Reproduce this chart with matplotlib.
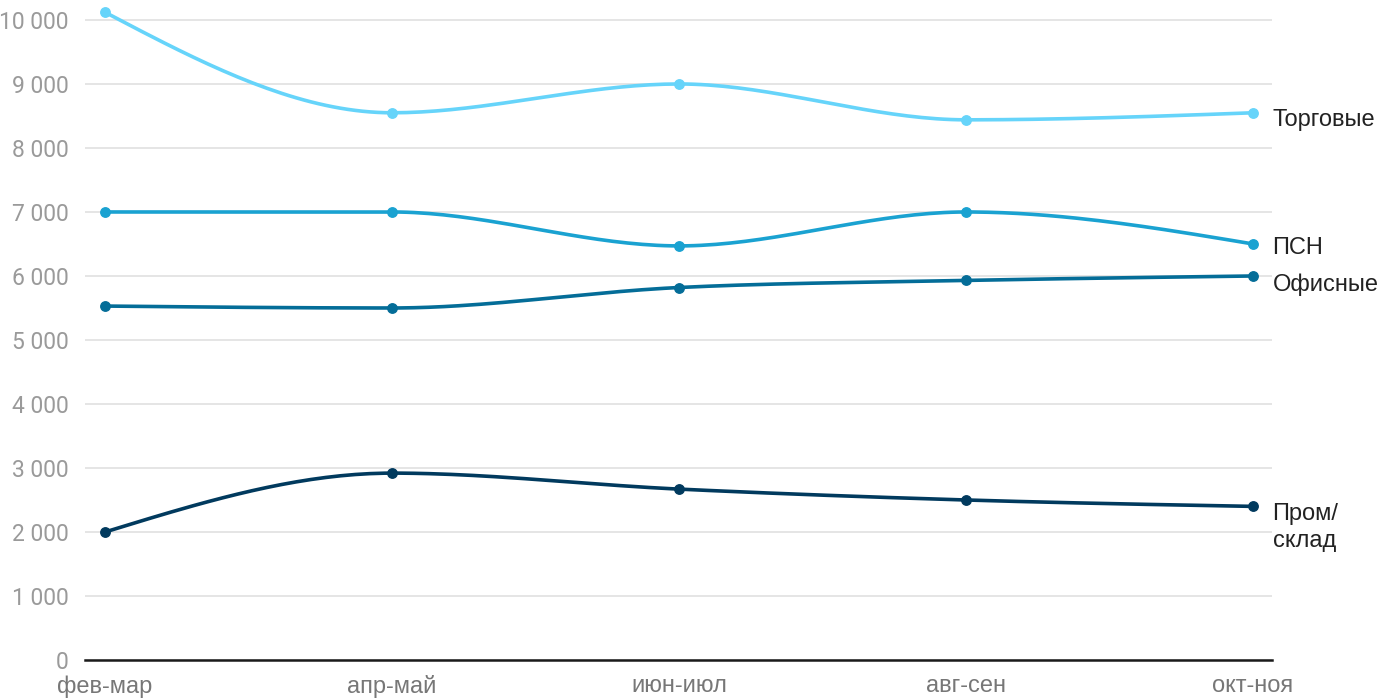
import numpy as np
import matplotlib
matplotlib.use("Agg")
import matplotlib.pyplot as plt

periods = ["фев-мар", "апр-май", "июн-июл", "авг-сен", "окт-ноя"]

torg = [10120, 8550, 9000, 8440, 8550]
psn = [7000, 7000, 6470, 7000, 6500]
office = [5530, 5500, 5820, 5930, 6000]
prom = [2000, 2920, 2670, 2500, 2400]

series = [
    ("Торговые", torg, "#66d4fa", -5),
    ("ПСН", psn, "#1aa2d1", -3),
    ("Офисные", office, "#046d98", -6),
    ("Пром/\nсклад", prom, "#013a5e", -15.5),
]
yticks = list(range(0, 10001, 1000))


def monotone_x(x, y, n=40):
    # same as d3.curveMonotoneX
    x = np.asarray(x, float)
    y = np.asarray(y, float)
    h = np.diff(x)
    s = np.diff(y) / h
    t = np.zeros(len(x))
    for i in range(1, len(x) - 1):
        p = (s[i - 1] * h[i] + s[i] * h[i - 1]) / (h[i - 1] + h[i])
        t[i] = (np.sign(s[i - 1]) + np.sign(s[i])) * min(abs(s[i - 1]), abs(s[i]), 0.5 * abs(p))
    t[0] = (3 * s[0] - t[1]) / 2
    t[-1] = (3 * s[-1] - t[-2]) / 2
    xs, ys = [], []
    for i in range(len(x) - 1):
        u = np.linspace(0, 1, n)
        dx = h[i]
        p0, p1 = y[i], y[i] + dx * t[i] / 3
        p2, p3 = y[i + 1] - dx * t[i + 1] / 3, y[i + 1]
        xs.append(x[i] + dx * u)
        ys.append((1 - u) ** 3 * p0 + 3 * (1 - u) ** 2 * u * p1 + 3 * (1 - u) * u ** 2 * p2 + u ** 3 * p3)
    return np.concatenate(xs), np.concatenate(ys)


fig = plt.figure(figsize=(14, 7), dpi=100)
ax = fig.add_axes([85 / 1400, 40 / 700, (1272 - 85) / 1400, 660 / 700])

xpos = np.arange(len(periods))
for name, vals, color, dy in series:
    sx, sy = monotone_x(xpos, vals)
    ax.plot(sx, sy, color=color, lw=2.6, solid_capstyle="round", zorder=3)
    ax.plot(xpos, vals, "o", color=color, ms=6.8, zorder=4)
    ax.annotate(name, (xpos[-1], vals[-1]), xytext=(14, dy), textcoords="offset points",
                va="center", ha="left",
                fontsize=17, color="#222222", family="Liberation Sans",
                linespacing=1.3, annotation_clip=False)

ax.set_xlim(-0.07, 4.066)
ax.set_ylim(0, 10312)
ax.set_yticks(yticks)
ax.set_yticklabels([f"{v:,}".replace(",", " ") for v in yticks], family="Roboto",
                   fontsize=16.5, color="#9a9a9a")
ax.set_xticks(xpos)
ax.set_xticklabels(periods, family="Liberation Sans", fontsize=17, color="#777777")
ax.tick_params(axis="both", length=0)
ax.tick_params(axis="y", pad=12)
ax.tick_params(axis="x", pad=11)

ax.grid(axis="y", color="#e3e3e3", lw=1.3, zorder=0)
ax.set_axisbelow(True)
for sp in ["top", "right", "left"]:
    ax.spines[sp].set_visible(False)
ax.spines["bottom"].set_color("#1a1a1a")
ax.spines["bottom"].set_linewidth(1.8)
ax.spines["bottom"].set_zorder(2)

fig.savefig("out.png", dpi=100)
